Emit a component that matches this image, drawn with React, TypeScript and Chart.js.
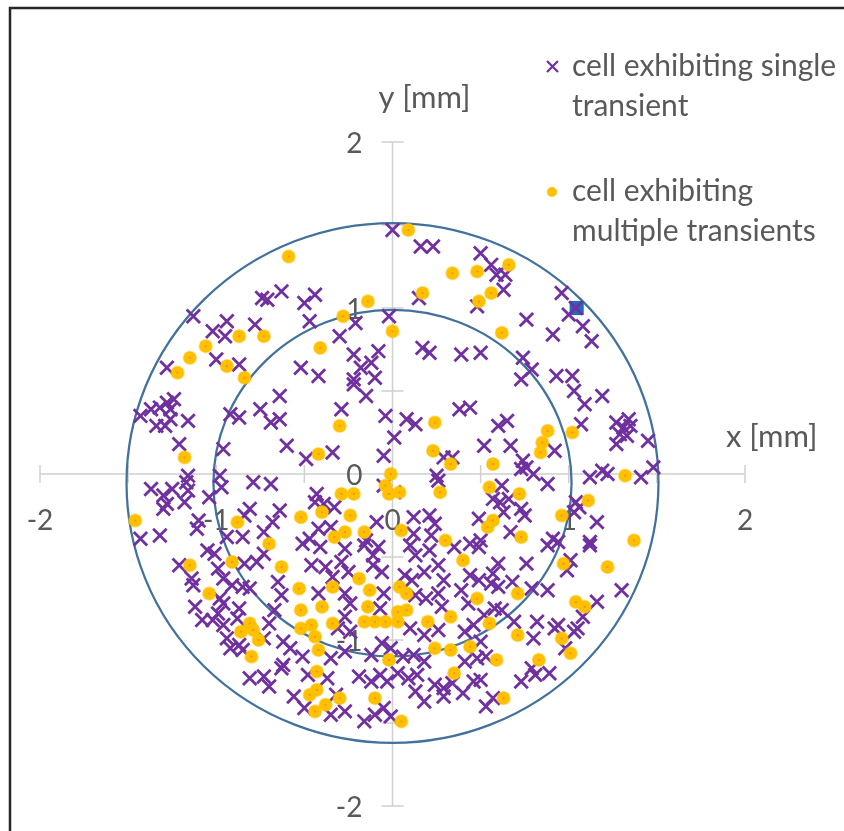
import React, { useEffect, useRef } from 'react';
import { Chart, registerables } from 'chart.js';

Chart.register(...registerables);

// ---- data ----
const singleLabel = ['cell exhibiting single', 'transient'];
const multiLabel = ['cell exhibiting', 'multiple transients'];

// cells exhibiting a single transient [x mm, y mm]
const singleCells: number[][] = [
  [0.00,1.47],[-1.13,0.95],[-0.74,1.06],[-0.71,1.05],[-0.63,1.10],[-0.50,1.03],[-0.44,1.08],[-0.47,0.92],
  [-0.94,0.92],[-1.02,0.86],[-0.95,0.83],[-0.78,0.90],[-1.28,0.64],[-1.00,0.69],[-0.87,0.66],[-0.30,0.83],
  [-0.21,0.91],[-0.02,0.95],[-0.22,0.72],[-0.18,0.64],[-0.12,0.67],[-0.08,0.74],[-0.52,0.64],[-0.42,0.59],
  [-0.22,0.57],[-0.10,0.58],
  [0.16,1.37],[0.23,1.37],[0.50,1.33],[0.56,1.26],[0.59,1.20],[0.64,1.20],[0.63,1.11],[0.48,1.01],
  [0.15,1.06],[0.96,1.09],[1.04,1.00],[1.00,0.96],[1.08,0.89],[0.76,0.93],[0.91,0.84],[1.13,0.80],
  [0.17,0.76],[0.21,0.73],[0.39,0.72],[0.50,0.73],[0.74,0.70],[0.79,0.63],[0.73,0.57],[0.93,0.59],[1.02,0.59],
  [-1.43,0.35],[-1.37,0.39],[-1.32,0.40],[-1.28,0.43],[-1.24,0.45],[-1.26,0.39],[-1.34,0.29],[-1.29,0.29],
  [-1.26,0.33],[-1.16,0.32],[-1.21,0.18],[-0.92,0.36],[-0.87,0.34],[-0.75,0.39],[-0.64,0.47],[-0.69,0.31],
  [-0.64,0.33],[-0.60,0.17],[-0.49,0.09],[-0.34,0.13],[-0.29,0.39],[-0.22,0.54],[-0.15,0.47],[-0.04,0.35],
  [-0.05,0.11],[-0.96,0.15],[-1.37,-0.09],[-1.30,-0.13],[-1.28,-0.18],[-1.25,-0.09],[-1.17,-0.05],[-1.16,-0.10],
  [-1.16,-0.01],[-1.18,-0.17],[-1.30,-0.21],[-1.04,-0.14],[-0.98,-0.01],[-0.97,-0.08],[-0.79,-0.05],[-0.69,-0.06],
  [-0.84,-0.25],[-0.81,-0.21],[-0.64,-0.22],[-0.68,-0.29],[-0.73,-0.35],[-1.10,-0.28],[-1.11,-0.33],[-1.32,-0.37],
  [-1.43,-0.39],[-0.94,-0.38],[-0.85,-0.38],[-0.43,-0.12],[-0.44,-0.17],[-0.39,-0.18],[-0.33,-0.20],[-0.42,-0.33],
  [-0.35,-0.32],[-0.47,-0.39],[-0.15,-0.40],[-0.05,-0.07],[-0.09,-0.29],
  [1.03,0.50],[1.09,0.42],[1.19,0.47],[1.07,0.30],[0.38,0.39],[0.44,0.40],[0.08,0.33],[0.13,0.30],
  [0.01,0.22],[0.60,0.29],[0.65,0.32],[0.52,0.17],[0.67,0.17],[0.29,0.10],[0.34,0.10],[0.92,0.14],
  [0.74,0.08],[0.76,0.04],[0.80,0.00],[0.73,0.03],[0.88,-0.06],[0.25,-0.01],[0.26,-0.04],[0.01,-0.11],
  [0.62,-0.07],[0.57,-0.15],[0.61,-0.17],[0.66,-0.15],[0.73,-0.21],[0.75,-0.25],[0.49,-0.27],[0.63,-0.23],
  [0.12,-0.26],[0.21,-0.25],[0.24,-0.30],[0.12,-0.36],[0.22,-0.37],[0.67,-0.35],[1.04,-0.17],[1.06,-0.20],
  [1.03,-0.23],[1.16,-0.29],[1.12,-0.02],[1.19,0.02],[1.22,0.00],[1.41,-0.02],[1.48,0.04],[1.27,0.31],
  [1.31,0.28],[1.35,0.29],[1.29,0.24],[1.33,0.23],[1.27,0.18],[1.45,0.20],[1.34,0.33],[1.12,-0.41],
  [0.91,-0.39],[0.50,-0.40],
  [-1.21,-0.55],[-1.14,-0.63],[-1.13,-0.67],[-1.12,-0.80],[-1.08,-0.88],[-1.05,-0.46],[-1.01,-0.48],[-0.99,-0.57],
  [-0.96,-0.63],[-0.91,-0.67],[-0.85,-0.68],[-0.81,-0.69],[-0.98,-0.75],[-0.96,-0.78],[-0.99,-0.84],[-1.02,-0.88],
  [-0.96,-0.91],[-0.87,-0.81],[-0.88,-0.87],[-0.94,-0.99],[-0.92,-1.05],[-0.87,-1.03],[-0.85,-1.06],[-0.70,-0.90],
  [-0.73,-0.99],[-0.67,-0.82],[-0.63,-0.73],[-0.65,-0.65],[-0.77,-0.53],[-0.73,-0.48],[-0.84,-0.54],[-0.81,-1.23],
  [-0.73,-1.22],[-0.70,-1.28],[-0.62,-1.15],[-0.58,-1.05],[-0.56,-1.34],[-0.62,-1.01],[-0.63,-1.17],
  [-0.51,-0.42],[-0.41,-0.44],[-0.27,-0.45],[-0.16,-0.43],[-0.11,-0.49],[-0.08,-0.44],[0.10,-0.43],[0.13,-0.49],
  [0.21,-0.46],[0.35,-0.44],[0.44,-0.42],[-0.46,-0.55],[-0.38,-0.56],[-0.29,-0.53],[-0.25,-0.59],[-0.11,-0.55],
  [-0.06,-0.59],[0.07,-0.61],[0.11,-0.64],[0.18,-0.59],[0.26,-0.55],[0.29,-0.64],[0.44,-0.61],[0.49,-0.64],
  [-0.34,-0.62],[-0.42,-0.72],[-0.27,-0.72],[-0.24,-0.78],[-0.05,-0.72],[-0.07,-0.81],[0.13,-0.73],[0.19,-0.75],
  [0.26,-0.72],[0.28,-0.80],[0.43,-0.78],[0.39,-0.70],[-0.27,-0.86],[-0.31,-0.93],[-0.24,-0.95],[0.10,-0.93],
  [0.18,-0.97],[0.26,-0.94],[0.41,-0.95],[0.46,-0.91],[-0.06,-1.02],[-0.01,-1.05],[-0.51,-1.10],[-0.35,-1.11],
  [-0.27,-1.07],[-0.12,-1.09],[0.06,-1.10],[0.12,-1.09],[0.18,-1.13],[0.41,-1.13],[0.48,-1.11],[-0.48,-1.21],
  [-0.37,-1.23],[-0.19,-1.22],[-0.07,-1.21],[0.03,-1.20],[0.09,-1.23],[0.14,-1.21],[0.24,-1.27],[0.29,-1.29],
  [0.34,-1.26],[0.46,-1.25],[-0.03,-1.25],[-0.12,-1.25],[-0.35,-1.45],[-0.27,-1.43],[-0.16,-1.49],[-0.10,-1.45],
  [-0.05,-1.41],[-0.01,-1.46],[0.18,-1.37],[0.29,-1.34],[0.40,-1.32],[-0.50,-1.41],[-0.32,-1.33],[0.13,-1.31],
  [0.49,-0.44],[0.60,-0.54],[0.57,-0.60],[0.56,-0.66],[0.60,-0.68],[0.68,-0.65],[0.76,-0.54],[0.88,-0.43],
  [0.94,-0.41],[1.01,-0.52],[0.99,-0.58],[1.12,-0.43],[0.88,-0.70],[0.79,-0.69],[1.30,-0.70],[1.16,-0.77],
  [1.08,-0.86],[1.05,-0.93],[1.03,-0.95],[0.94,-0.91],[0.92,-0.93],[0.82,-0.89],[0.80,-0.99],[0.69,-0.89],
  [0.58,-0.81],[0.62,-0.82],[0.52,-0.85],[0.50,-1.01],[0.53,-1.10],[0.50,-1.24],[0.53,-1.40],[0.57,-1.35],
  [0.73,-1.25],[0.79,-1.17],[0.81,-1.21],[0.89,-1.20],[0.98,-1.05],
];

// cells exhibiting multiple transients [x mm, y mm]
const multiCells: number[][] = [
  [-0.59,1.31],[-0.14,1.04],[-0.28,0.95],[0.00,0.86],[-0.87,0.83],[-0.73,0.83],[-1.06,0.77],[-1.15,0.70],
  [-1.22,0.61],[-0.94,0.65],[-0.84,0.58],[-0.41,0.76],[0.09,1.47],[0.34,1.21],[0.48,1.22],[0.66,1.26],
  [0.56,1.09],[0.49,1.04],[0.17,1.09],[0.62,0.85],[-0.30,0.29],[-1.18,0.10],[-0.42,0.12],[-1.46,-0.28],
  [-0.88,-0.29],[-0.52,-0.26],[-0.40,-0.23],[-0.29,-0.12],[-0.22,-0.12],[-0.24,-0.25],[-0.16,-0.35],[-0.33,-0.38],
  [-0.27,-0.35],[-0.01,0.00],[-0.04,-0.07],[-0.02,-0.12],[-0.70,-0.42],[0.24,0.31],[0.23,0.14],[0.33,0.06],
  [0.57,0.06],[0.88,0.26],[0.85,0.19],[0.84,0.13],[1.02,0.25],[1.32,-0.01],[0.04,-0.11],[0.27,-0.11],
  [0.55,-0.08],[0.72,-0.12],[1.11,-0.16],[0.96,-0.25],[0.57,-0.28],[0.54,-0.32],[0.05,-0.34],[0.30,-0.40],
  [0.73,-0.38],[1.37,-0.40],[-1.15,-0.55],[-0.91,-0.53],[-1.04,-0.72],[-0.86,-0.95],[-0.81,-0.90],[-0.79,-0.94],
  [-0.76,-1.00],[-0.80,-1.10],[-0.63,-0.56],[-0.53,-0.69],[-0.52,-0.82],[-0.34,-0.68],[-0.19,-0.63],[-0.13,-0.70],
  [0.04,-0.68],[0.08,-0.72],[-0.40,-0.80],[-0.14,-0.80],[0.03,-0.83],[0.08,-0.82],[-0.16,-0.89],[-0.10,-0.89],
  [-0.04,-0.89],[0.03,-0.89],[-0.34,-0.90],[-0.46,-0.91],[-0.52,-0.93],[-0.44,-0.98],[-0.42,-1.06],[0.20,-0.89],
  [0.33,-0.86],[0.40,-0.52],[0.48,-0.75],[0.24,-1.05],[0.33,-1.06],[0.44,-1.04],[-0.02,-1.12],[-0.43,-1.19],
  [0.35,-1.20],[-0.43,-1.30],[-0.47,-1.33],[-0.38,-1.39],[-0.44,-1.43],[-0.30,-1.35],[-0.10,-1.35],[0.05,-1.49],
  [0.97,-0.54],[1.22,-0.56],[0.71,-0.72],[1.04,-0.77],[1.09,-0.80],[0.55,-0.90],[0.71,-0.97],[0.96,-0.99],
  [1.01,-1.08],[0.59,-1.12],[0.83,-1.12],[0.63,-1.35],
];

// highlighted cell
const markedCell: number[][] = [[1.045, 1.0]];

// reference rings [centre x, centre y, radius x, radius y] in mm
const rings: number[][] = [
  [0.0, -0.055, 1.016, 1.044],
  [0.0, -0.054, 1.509, 1.566],
];

const xTickLabels = [-2, -1, 0, 1, 2];
const yTickLabels = [2, 1, 0, -1, -2];
const minorTicks = [-2, -1.5, -1, -0.5, 0, 0.5, 1, 1.5, 2];
const xTitle = 'x [mm]';
const yTitle = 'y [mm]';

const PURPLE = '#7030a0';
const GOLD = '#ffc000';
const RING = '#41719c';
const TEXT = '#595959';
const AXIS = '#d0d0d0';
const FONT = 'Lato, "Open Sans", sans-serif';

const toPts = (arr: number[][]) => arr.map(([x, y]) => ({ x, y }));

function makeDot(): HTMLCanvasElement {
  const c = document.createElement('canvas');
  c.width = 16;
  c.height = 16;
  const g = c.getContext('2d')!;
  g.fillStyle = GOLD;
  g.beginPath();
  g.arc(8, 8, 6.8, 0, Math.PI * 2);
  g.fill();
  g.fillStyle = '#f08a24';
  g.beginPath();
  g.arc(8, 8, 1.1, 0, Math.PI * 2);
  g.fill();
  return c;
}

const decorPlugin = {
  id: 'decor',
  beforeDatasetsDraw(chart: any) {
    const { ctx, scales } = chart;
    const xs = scales.x;
    const ys = scales.y;
    const x0 = xs.getPixelForValue(0);
    const y0 = ys.getPixelForValue(0);
    ctx.save();
    // frame
    ctx.strokeStyle = '#262626';
    ctx.lineWidth = 2.5;
    ctx.strokeRect(10, 8, 900, 900);

    // axes
    ctx.strokeStyle = AXIS;
    ctx.lineWidth = 1.5;
    ctx.beginPath();
    ctx.moveTo(xs.getPixelForValue(-2), y0);
    ctx.lineTo(xs.getPixelForValue(2), y0);
    ctx.moveTo(x0, ys.getPixelForValue(2));
    ctx.lineTo(x0, ys.getPixelForValue(-2));
    for (const v of minorTicks) {
      const px = xs.getPixelForValue(v);
      ctx.moveTo(px, y0 - 9);
      ctx.lineTo(px, y0 + 9);
      const py = ys.getPixelForValue(v);
      ctx.moveTo(x0 - 11, py);
      ctx.lineTo(x0 + 11, py);
    }
    ctx.stroke();

    // tick labels
    ctx.fillStyle = TEXT;
    ctx.font = `28px ${FONT}`;
    ctx.textBaseline = 'middle';
    ctx.textAlign = 'center';
    for (const v of xTickLabels) {
      ctx.fillText(String(v), xs.getPixelForValue(v), y0 + 47);
    }
    ctx.textAlign = 'right';
    for (const v of yTickLabels) {
      ctx.fillText(String(v), x0 - 30, ys.getPixelForValue(v) + 2);
    }

    // axis titles
    ctx.font = `31px ${FONT}`;
    ctx.textBaseline = 'alphabetic';
    ctx.textAlign = 'center';
    ctx.fillText(yTitle, x0 + 32, 108);
    ctx.textAlign = 'left';
    ctx.fillText(xTitle, 726, 447);

    // rings
    ctx.strokeStyle = RING;
    ctx.lineWidth = 2.25;
    for (const [cx, cy, rx, ry] of rings) {
      const pcx = xs.getPixelForValue(cx);
      const pcy = ys.getPixelForValue(cy);
      const prx = Math.abs(xs.getPixelForValue(cx + rx) - pcx);
      const pry = Math.abs(ys.getPixelForValue(cy + ry) - pcy);
      ctx.beginPath();
      ctx.ellipse(pcx, pcy, prx, pry, 0, 0, Math.PI * 2);
      ctx.stroke();
    }

    // legend
    ctx.font = `30px ${FONT}`;
    ctx.fillStyle = TEXT;
    ctx.textAlign = 'left';
    ctx.textBaseline = 'alphabetic';
    ctx.fillText(singleLabel[0], 572, 76);
    ctx.fillText(singleLabel[1], 572, 116);
    ctx.fillText(multiLabel[0], 572, 201);
    ctx.fillText(multiLabel[1], 572, 241);
    ctx.strokeStyle = PURPLE;
    ctx.lineWidth = 2.2;
    ctx.beginPath();
    ctx.moveTo(547, 61); ctx.lineTo(558, 72);
    ctx.moveTo(558, 61); ctx.lineTo(547, 72);
    ctx.stroke();
    ctx.fillStyle = GOLD;
    ctx.beginPath();
    ctx.arc(552, 192, 5, 0, Math.PI * 2);
    ctx.fill();
    ctx.restore();
  },
};

export default function App() {
  const ref = useRef<HTMLCanvasElement | null>(null);
  useEffect(() => {
    if (!ref.current) return;
    const dot = makeDot();
    const chart = new Chart(ref.current, {
      type: 'scatter',
      data: {
        datasets: [
          {
            label: multiLabel.join(' '),
            data: toPts(multiCells),
            pointStyle: dot,
            pointRadius: 7,
            pointBackgroundColor: GOLD,
            pointBorderColor: GOLD,
            pointBorderWidth: 0,
          },
          {
            label: singleLabel.join(' '),
            data: toPts(singleCells),
            pointStyle: 'crossRot',
            pointRadius: 9.5,
            pointBorderColor: PURPLE,
            pointBorderWidth: 2.8,
          },
          {
            label: 'marked',
            data: toPts(markedCell),
            pointStyle: 'rect',
            pointRadius: 10,
            pointBackgroundColor: '#1f6bbf',
            pointBorderColor: '#1f6bbf',
            pointBorderWidth: 0,
          },
        ],
      },
      options: {
        animation: false,
        responsive: false,
        layout: { padding: { left: 40, right: 99, top: 142, bottom: 25 } },
        scales: {
          x: { type: 'linear', min: -2, max: 2, display: false },
          y: { type: 'linear', min: -2, max: 2, display: false },
        },
        plugins: {
          legend: { display: false },
          tooltip: { enabled: false },
        },
      },
      plugins: [decorPlugin],
    });
    return () => chart.destroy();
  }, []);
  return (
    <div style={{ position: 'fixed', left: 0, top: 0, width: 844, height: 831, background: '#fff' }}>
      <canvas ref={ref} width={844} height={831} />
    </div>
  );
}
